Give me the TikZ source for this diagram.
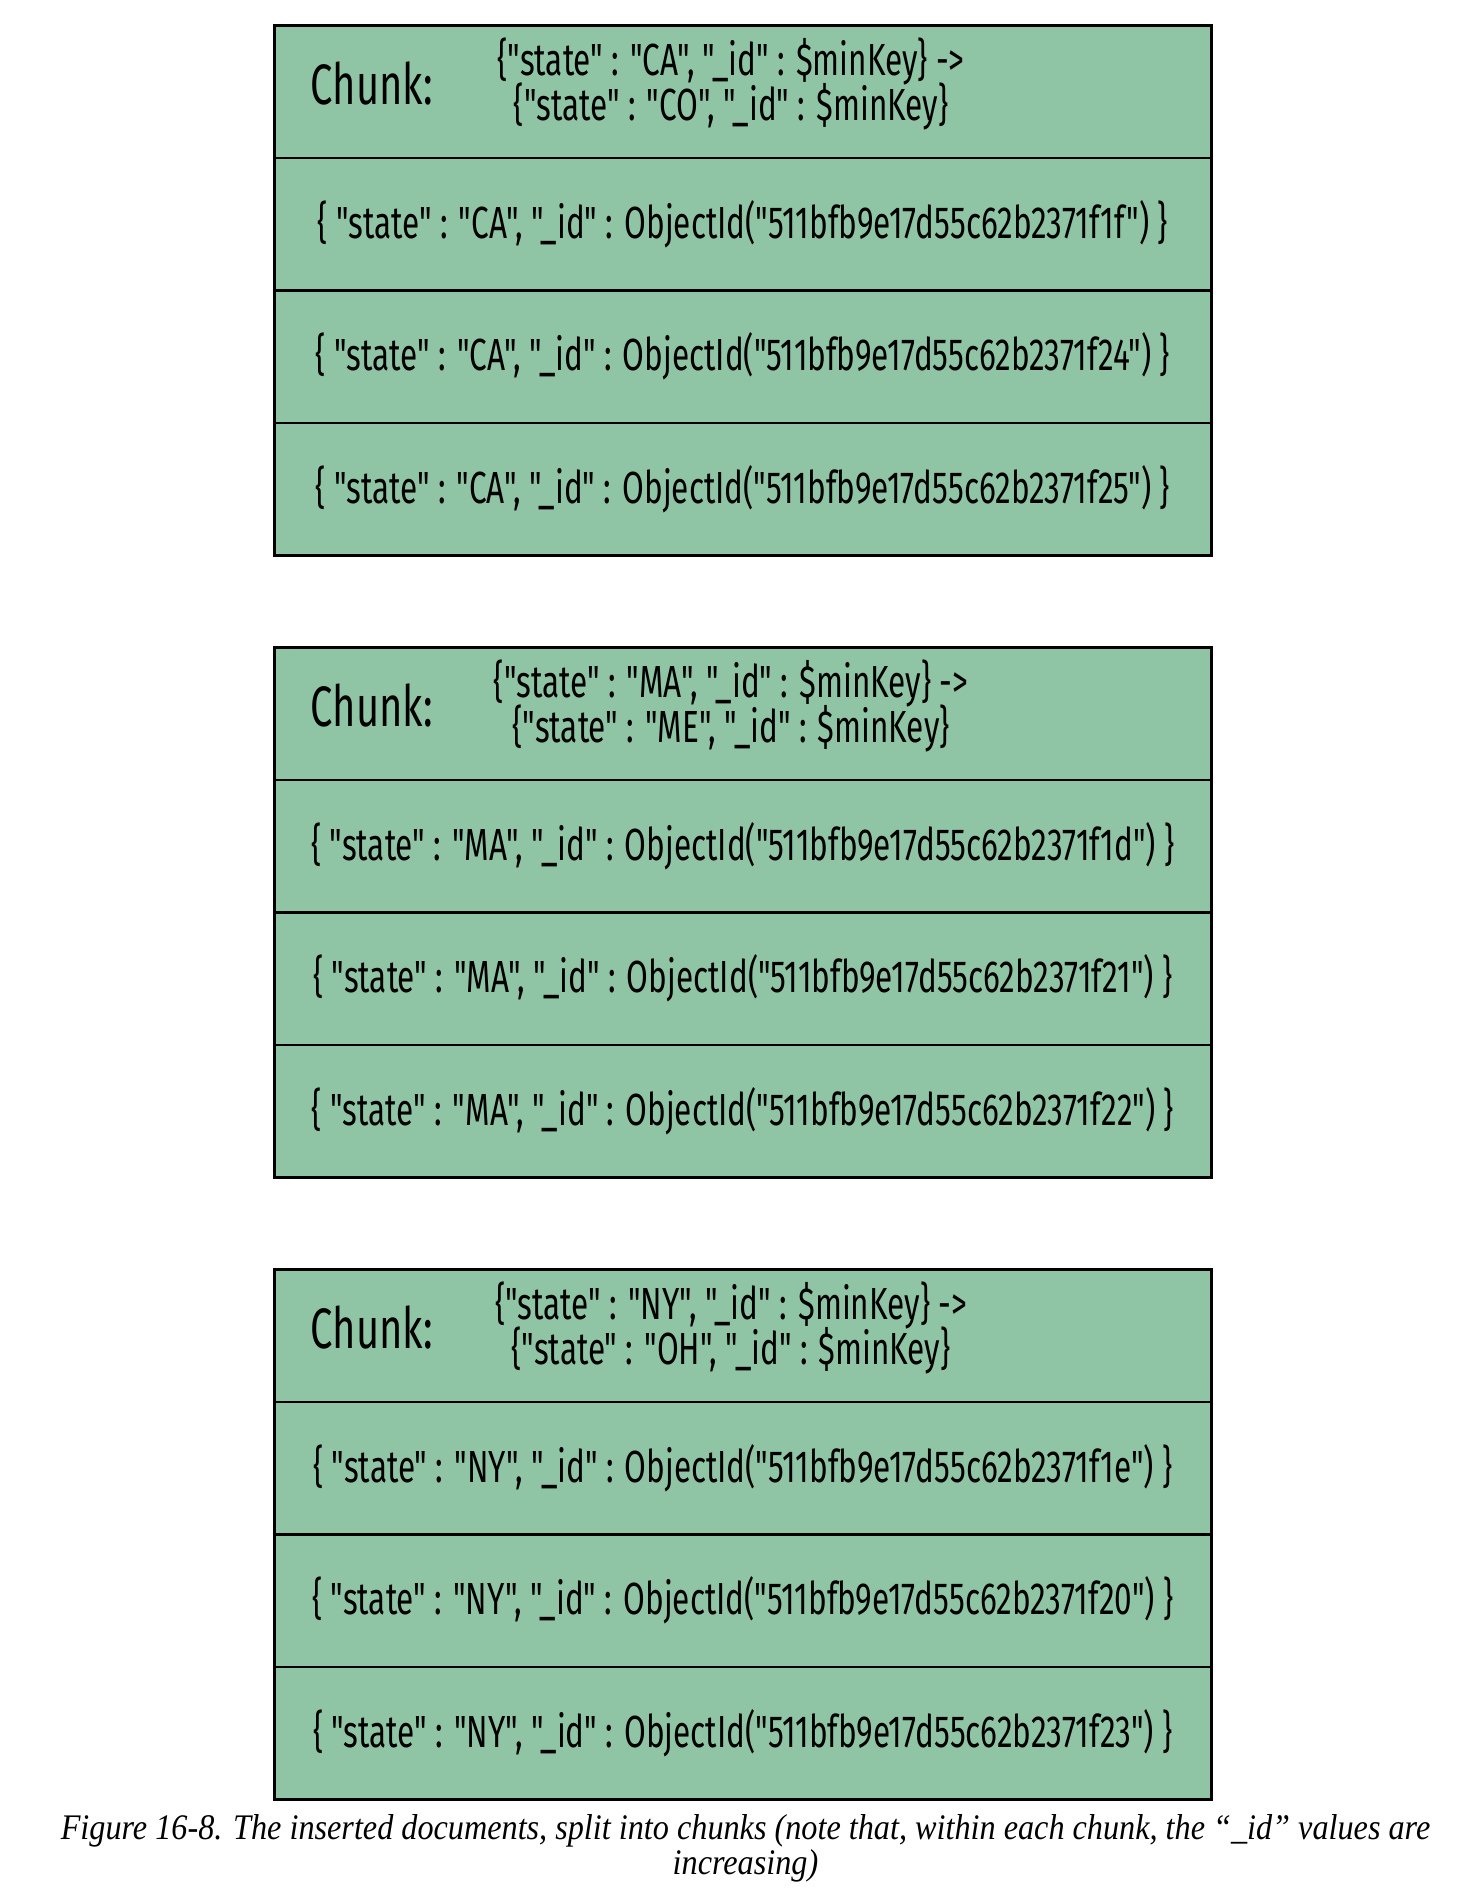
\documentclass[tikz,border=0pt]{standalone}
\usepackage{fontspec}
\newfontfamily\chunkfont{Fira Sans}[FakeStretch=0.70]
\newfontfamily\capfont{Liberation Serif}[FakeStretch=0.895]
\usetikzlibrary{positioning}
\definecolor{chunkgreen}{RGB}{143,197,165}

\begin{document}
\begin{tikzpicture}[x=50pt, y=50pt,
  row/.style={draw=black, line width=1.3pt, fill=chunkgreen, minimum width=468.6pt,
    minimum height=66.29pt, inner sep=0pt, outer sep=0pt, font=\chunkfont\fontsize{22.5}{24}\selectfont},
  chunklabel/.style={inner sep=0pt, font=\chunkfont\fontsize{28.5}{30}\selectfont},
  keyrange/.style={inner sep=0pt, align=center, font=\chunkfont\fontsize{22.5}{23}\selectfont},
  caption/.style={inner sep=0pt, align=center, font=\capfont\itshape\fontsize{18}{17.5}\selectfont}]
\useasboundingbox (0,0) rectangle (14.8,18.9);

% chunk CA -> CO
\node[row] at (7.429,17.984) (hdA) {};
\node[row, below=0pt of hdA] (docA1) {\{ "state" : "CA", "\_id" : ObjectId("511bfb9e17d55c62b2371f1f") \}};
\node[row, below=0pt of docA1] (docA2) {\{ "state" : "CA", "\_id" : ObjectId("511bfb9e17d55c62b2371f24") \}};
\node[row, below=0pt of docA2] (docA3) {\{ "state" : "CA", "\_id" : ObjectId("511bfb9e17d55c62b2371f25") \}};
\node[chunklabel] at (3.72,18.064) (chunkA) {Chunk:};
\node[keyrange] at (7.31,18.06) (rangeA) {\{"state" : "CA", "\_id" : \$minKey\} ->\\[-2.5pt]\{"state" : "CO", "\_id" : \$minKey\}};

% chunk MA -> ME
\node[row] at (7.429,11.764) (hdB) {};
\node[row, below=0pt of hdB] (docB1) {\{ "state" : "MA", "\_id" : ObjectId("511bfb9e17d55c62b2371f1d") \}};
\node[row, below=0pt of docB1] (docB2) {\{ "state" : "MA", "\_id" : ObjectId("511bfb9e17d55c62b2371f21") \}};
\node[row, below=0pt of docB2] (docB3) {\{ "state" : "MA", "\_id" : ObjectId("511bfb9e17d55c62b2371f22") \}};
\node[chunklabel] at (3.72,11.844) (chunkB) {Chunk:};
\node[keyrange] at (7.31,11.84) (rangeB) {\{"state" : "MA", "\_id" : \$minKey\} ->\\[-2.5pt]\{"state" : "ME", "\_id" : \$minKey\}};

% chunk NY -> OH
\node[row] at (7.429,5.544) (hdC) {};
\node[row, below=0pt of hdC] (docC1) {\{ "state" : "NY", "\_id" : ObjectId("511bfb9e17d55c62b2371f1e") \}};
\node[row, below=0pt of docC1] (docC2) {\{ "state" : "NY", "\_id" : ObjectId("511bfb9e17d55c62b2371f20") \}};
\node[row, below=0pt of docC2] (docC3) {\{ "state" : "NY", "\_id" : ObjectId("511bfb9e17d55c62b2371f23") \}};
\node[chunklabel] at (3.72,5.624) (chunkC) {Chunk:};
\node[keyrange] at (7.31,5.62) (rangeC) {\{"state" : "NY", "\_id" : \$minKey\} ->\\[-2.5pt]\{"state" : "OH", "\_id" : \$minKey\}};

\node[caption] at (7.455,0.42) (cap) {Figure 16-8. The inserted documents, split into chunks (note that, within each chunk, the “\_id” values are\\increasing)};
\end{tikzpicture}
\end{document}
